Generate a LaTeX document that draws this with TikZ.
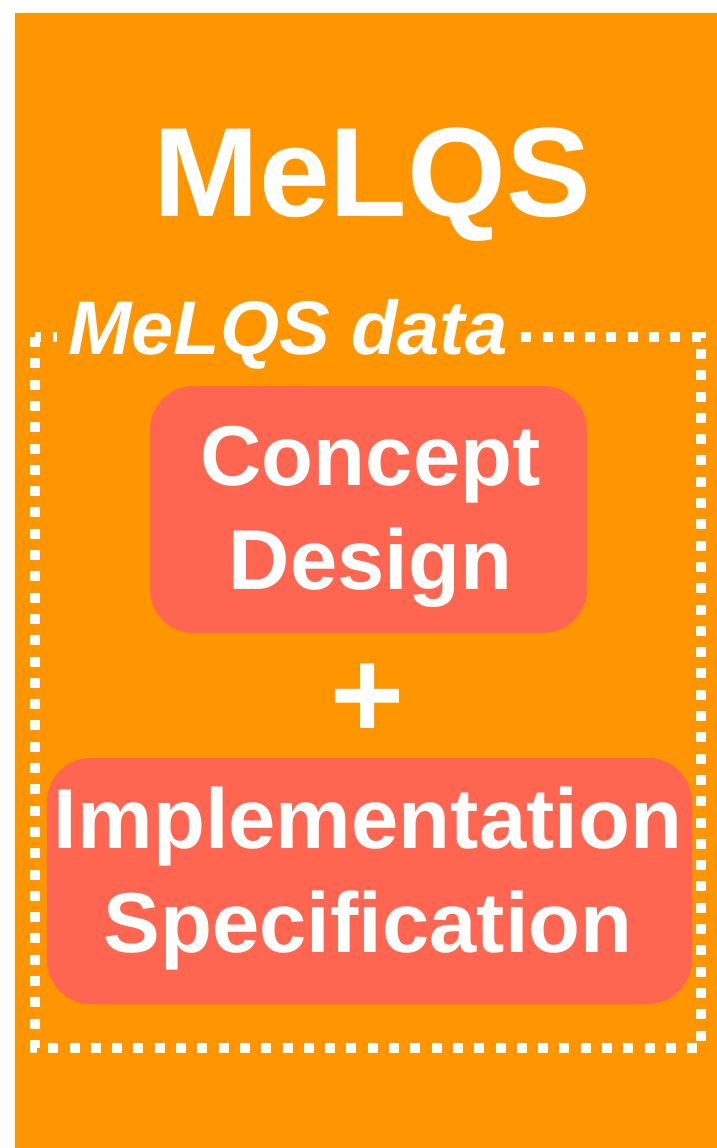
\documentclass[tikz,border=0pt]{standalone}
\usepackage{fontspec}
\setmainfont{Liberation Sans}
\definecolor{bgorange}{HTML}{FF9500}
\definecolor{coral}{HTML}{FF6651}
\begin{document}
\begin{tikzpicture}[x=1pt,y=-1pt,
  txt/.style={text=white,font=\bfseries\fontsize{85}{104}\selectfont,inner sep=0pt,anchor=base},
  coralbox/.style={fill=coral,rounded corners=44pt,inner sep=0pt},
  dotline/.style={draw=white,line width=10pt,dash pattern=on 10pt off 11.3pt}]
\useasboundingbox (0,0) rectangle (717,1148);
\fill[white] (0,0) rectangle (717,1148);
\fill[bgorange] (15,13) rectangle (717,1148);
% title
\node[txt,font=\bfseries\fontsize{127}{150}\selectfont] (title) at (372,216) {MeLQS};
% dotted frame
\draw[dotline] (35,337) rectangle (701,1048);
\node[fill=bgorange,text=white,font=\bfseries\itshape\fontsize{76}{80}\selectfont,
  inner xsep=11pt,inner ysep=4pt,anchor=base west] (data) at (57,354) {MeLQS data};
% concept design box
\node[coralbox,minimum width=437pt,minimum height=247pt] (cd) at (368.5,509.5) {};
\node[txt] (cd1) at (370.5,485) {Concept};
\node[txt] (cd2) at (370.5,589) {Design};
% plus
\node[txt,font=\bfseries\fontsize{127}{150}\selectfont,anchor=center] (plus) at (368,701) {+};
% implementation specification box
\node[coralbox,minimum width=645pt,minimum height=246pt] (is) at (369.5,881) {};
\node[txt] (is1) at (368,848) {Implementation};
\node[txt] (is2) at (368,952) {Specification};
\end{tikzpicture}
\end{document}
